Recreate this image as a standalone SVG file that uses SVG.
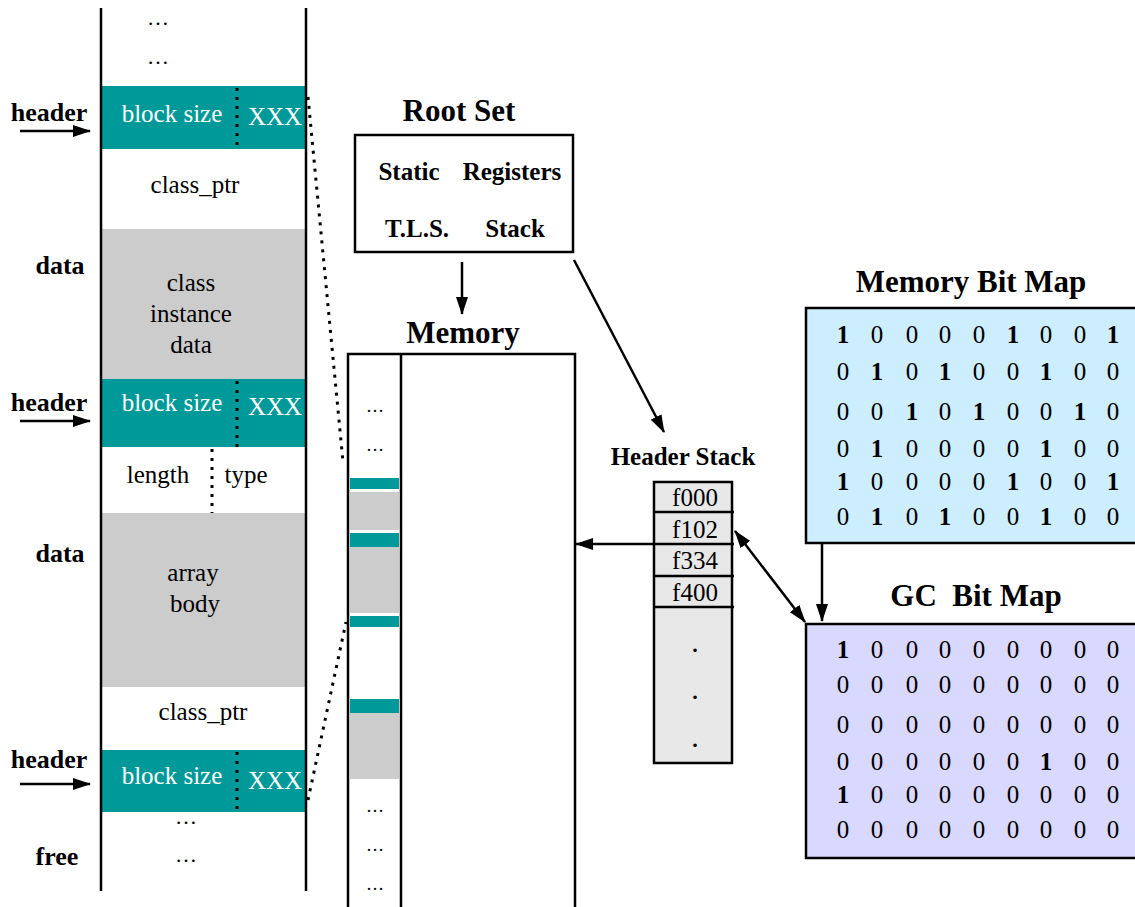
<svg xmlns="http://www.w3.org/2000/svg" width="1135" height="907" viewBox="0 0 1135 907">
<style>
text{font-family:"Liberation Serif","Times New Roman",serif;fill:#000}
.t{font-size:25px}
.b{font-weight:bold}
.w{fill:#fff}
.m{text-anchor:middle}
.ttl{font-size:31px;font-weight:bold;text-anchor:middle}
.lab{font-size:26px;font-weight:bold;text-anchor:middle}
.teal{fill:#009999}
.gray{fill:#cccccc}
.ln{stroke:#000;stroke-width:2.5;fill:none}
.dot{stroke:#000;stroke-width:3;stroke-dasharray:3 6;fill:none}
.arr{stroke:#000;stroke-width:2.5;fill:none;marker-end:url(#ah)}
.ell{font-size:22px;text-anchor:middle}
.ells{font-size:18px;text-anchor:middle}
.bits{font-size:25px;text-anchor:middle}
.sd{font-size:30px;text-anchor:middle}
</style>
<defs>
<marker id="ah" markerWidth="18" markerHeight="12" refX="17" refY="6" orient="auto" markerUnits="userSpaceOnUse"><path d="M0,0 L18,6 L0,12 z" fill="#000"/></marker>
<marker id="ahs" markerWidth="18" markerHeight="12" refX="17" refY="6" orient="auto-start-reverse" markerUnits="userSpaceOnUse"><path d="M0,0 L18,6 L0,12 z" fill="#000"/></marker>
</defs>
<rect width="1135" height="907" fill="#fff"/>

<g id="heap-column">
<rect class="teal" x="102" y="86" width="204" height="63"/>
<rect class="gray" x="102" y="229" width="204" height="150"/>
<rect class="teal" x="102" y="379" width="204" height="68"/>
<rect class="gray" x="102" y="513" width="204" height="174"/>
<rect class="teal" x="102" y="750" width="204" height="62"/>
<line class="ln" x1="101" y1="8" x2="101" y2="891"/>
<line class="ln" x1="306" y1="8" x2="306" y2="891"/>
<line class="dot" x1="237" y1="88" x2="237" y2="149"/>
<line class="dot" x1="237" y1="381" x2="237" y2="447"/>
<line class="dot" x1="212" y1="449" x2="212" y2="513"/>
<line class="dot" x1="237" y1="752" x2="237" y2="810"/>
<text class="ell" x="158" y="25">…</text>
<text class="ell" x="158" y="64">…</text>
<text class="t w m" x="172" y="122">block size</text>
<text class="t w m" x="275" y="125">XXX</text>
<text class="t m" x="195" y="193">class_ptr</text>
<text class="t m" x="191" y="291">class</text>
<text class="t m" x="191" y="322">instance</text>
<text class="t m" x="191" y="353">data</text>
<text class="t w m" x="172" y="411">block size</text>
<text class="t w m" x="275" y="415">XXX</text>
<text class="t m" x="158" y="483">length</text>
<text class="t m" x="246" y="483">type</text>
<text class="t m" x="193" y="581">array</text>
<text class="t m" x="195" y="612">body</text>
<text class="t m" x="203" y="720">class_ptr</text>
<text class="t w m" x="172" y="784">block size</text>
<text class="t w m" x="275" y="789">XXX</text>
<text class="ell" x="186" y="824">…</text>
<text class="ell" x="186" y="862">…</text>
</g>

<g id="side-labels">
<text class="lab" x="49" y="121">header</text>
<text class="lab" x="60" y="274">data</text>
<text class="lab" x="49" y="411">header</text>
<text class="lab" x="60" y="562">data</text>
<text class="lab" x="49" y="768">header</text>
<text class="lab" x="57" y="865">free</text>
</g>

<g id="root-set">
<text class="ttl" x="459" y="121">Root Set</text>
<rect x="355" y="135" width="218" height="117" fill="#fff" stroke="#000" stroke-width="2.5"/>
<text class="t b m" x="409" y="180">Static</text>
<text class="t b m" x="512" y="180">Registers</text>
<text class="t b m" x="417" y="237">T.L.S.</text>
<text class="t b m" x="515" y="237">Stack</text>
</g>

<g id="memory">
<text class="ttl" x="463" y="343">Memory</text>
<rect class="teal" x="350" y="478" width="49" height="11"/>
<rect class="gray" x="350" y="492" width="49" height="38"/>
<rect class="teal" x="350" y="533" width="49" height="14"/>
<rect class="gray" x="350" y="547" width="49" height="66"/>
<rect class="teal" x="350" y="616" width="49" height="11"/>
<rect class="teal" x="350" y="699" width="49" height="14"/>
<rect class="gray" x="350" y="713" width="49" height="66"/>
<path class="ln" d="M348,912 V354 H575 V912" stroke-width="3"/>
<line class="ln" x1="401" y1="354" x2="401" y2="912"/>
<text class="ells" x="375" y="412">…</text>
<text class="ells" x="375" y="451">…</text>
<text class="ells" x="375" y="812">…</text>
<text class="ells" x="375" y="851">…</text>
<text class="ells" x="375" y="890">…</text>
</g>

<g id="header-stack">
<text class="m b" style="font-size:25px" x="683" y="465">Header Stack</text>
<rect x="654" y="482" width="78" height="281" fill="#e8e8e8" stroke="#000" stroke-width="2.5"/>
<line class="ln" x1="654" y1="512" x2="734" y2="512"/>
<line class="ln" x1="654" y1="544" x2="734" y2="544"/>
<line class="ln" x1="654" y1="576" x2="734" y2="576"/>
<line class="ln" x1="654" y1="607" x2="734" y2="607"/>
<text class="t m" x="695" y="506">f000</text>
<text class="t m" x="695" y="538">f102</text>
<text class="t m" x="695" y="569">f334</text>
<text class="t m" x="695" y="601">f400</text>
<text class="sd" x="695" y="652">.</text>
<text class="sd" x="695" y="699">.</text>
<text class="sd" x="695" y="747">.</text>
</g>

<g id="memory-bit-map">
<text class="ttl" x="971" y="292">Memory Bit Map</text>
<rect x="806" y="308" width="332" height="235" fill="#cceeff" stroke="#000" stroke-width="2.5"/>
<text class="bits" y="343"><tspan class="b" x="843">1</tspan><tspan x="877">0</tspan><tspan x="912">0</tspan><tspan x="945">0</tspan><tspan x="979">0</tspan><tspan class="b" x="1013">1</tspan><tspan x="1046">0</tspan><tspan x="1080">0</tspan><tspan class="b" x="1113">1</tspan></text>
<text class="bits" y="380"><tspan x="843">0</tspan><tspan class="b" x="877">1</tspan><tspan x="912">0</tspan><tspan class="b" x="945">1</tspan><tspan x="979">0</tspan><tspan x="1013">0</tspan><tspan class="b" x="1046">1</tspan><tspan x="1080">0</tspan><tspan x="1113">0</tspan></text>
<text class="bits" y="420"><tspan x="843">0</tspan><tspan x="877">0</tspan><tspan class="b" x="912">1</tspan><tspan x="945">0</tspan><tspan class="b" x="979">1</tspan><tspan x="1013">0</tspan><tspan x="1046">0</tspan><tspan class="b" x="1080">1</tspan><tspan x="1113">0</tspan></text>
<text class="bits" y="457"><tspan x="843">0</tspan><tspan class="b" x="877">1</tspan><tspan x="912">0</tspan><tspan x="945">0</tspan><tspan x="979">0</tspan><tspan x="1013">0</tspan><tspan class="b" x="1046">1</tspan><tspan x="1080">0</tspan><tspan x="1113">0</tspan></text>
<text class="bits" y="490"><tspan class="b" x="843">1</tspan><tspan x="877">0</tspan><tspan x="912">0</tspan><tspan x="945">0</tspan><tspan x="979">0</tspan><tspan class="b" x="1013">1</tspan><tspan x="1046">0</tspan><tspan x="1080">0</tspan><tspan class="b" x="1113">1</tspan></text>
<text class="bits" y="525"><tspan x="843">0</tspan><tspan class="b" x="877">1</tspan><tspan x="912">0</tspan><tspan class="b" x="945">1</tspan><tspan x="979">0</tspan><tspan x="1013">0</tspan><tspan class="b" x="1046">1</tspan><tspan x="1080">0</tspan><tspan x="1113">0</tspan></text>
</g>

<g id="gc-bit-map">
<text class="ttl" x="976" y="606" style="white-space:pre">GC  Bit Map</text>
<rect x="806" y="624" width="332" height="234" fill="#d9d9ff" stroke="#000" stroke-width="2.5"/>
<text class="bits" y="658"><tspan class="b" x="843">1</tspan><tspan x="877">0</tspan><tspan x="912">0</tspan><tspan x="945">0</tspan><tspan x="979">0</tspan><tspan x="1013">0</tspan><tspan x="1046">0</tspan><tspan x="1080">0</tspan><tspan x="1113">0</tspan></text>
<text class="bits" y="693"><tspan x="843">0</tspan><tspan x="877">0</tspan><tspan x="912">0</tspan><tspan x="945">0</tspan><tspan x="979">0</tspan><tspan x="1013">0</tspan><tspan x="1046">0</tspan><tspan x="1080">0</tspan><tspan x="1113">0</tspan></text>
<text class="bits" y="733"><tspan x="843">0</tspan><tspan x="877">0</tspan><tspan x="912">0</tspan><tspan x="945">0</tspan><tspan x="979">0</tspan><tspan x="1013">0</tspan><tspan x="1046">0</tspan><tspan x="1080">0</tspan><tspan x="1113">0</tspan></text>
<text class="bits" y="770"><tspan x="843">0</tspan><tspan x="877">0</tspan><tspan x="912">0</tspan><tspan x="945">0</tspan><tspan x="979">0</tspan><tspan x="1013">0</tspan><tspan class="b" x="1046">1</tspan><tspan x="1080">0</tspan><tspan x="1113">0</tspan></text>
<text class="bits" y="803"><tspan class="b" x="843">1</tspan><tspan x="877">0</tspan><tspan x="912">0</tspan><tspan x="945">0</tspan><tspan x="979">0</tspan><tspan x="1013">0</tspan><tspan x="1046">0</tspan><tspan x="1080">0</tspan><tspan x="1113">0</tspan></text>
<text class="bits" y="838"><tspan x="843">0</tspan><tspan x="877">0</tspan><tspan x="912">0</tspan><tspan x="945">0</tspan><tspan x="979">0</tspan><tspan x="1013">0</tspan><tspan x="1046">0</tspan><tspan x="1080">0</tspan><tspan x="1113">0</tspan></text>
</g>

<g id="connectors">
<line class="arr" x1="20" y1="131" x2="90" y2="131"/>
<line class="arr" x1="20" y1="421" x2="90" y2="421"/>
<line class="arr" x1="20" y1="784" x2="90" y2="784"/>
<line class="dot" x1="308" y1="97" x2="343" y2="462"/>
<line class="dot" x1="308" y1="800" x2="346" y2="622"/>
<line class="arr" x1="462" y1="262" x2="462" y2="314"/>
<line class="arr" x1="574" y1="260" x2="664" y2="432"/>
<line class="arr" x1="654" y1="544" x2="576" y2="544"/>
<line class="arr" x1="735" y1="531" x2="805" y2="622" style="marker-start:url(#ahs)"/>
<line class="arr" x1="822" y1="543" x2="822" y2="621"/>
</g>
</svg>
